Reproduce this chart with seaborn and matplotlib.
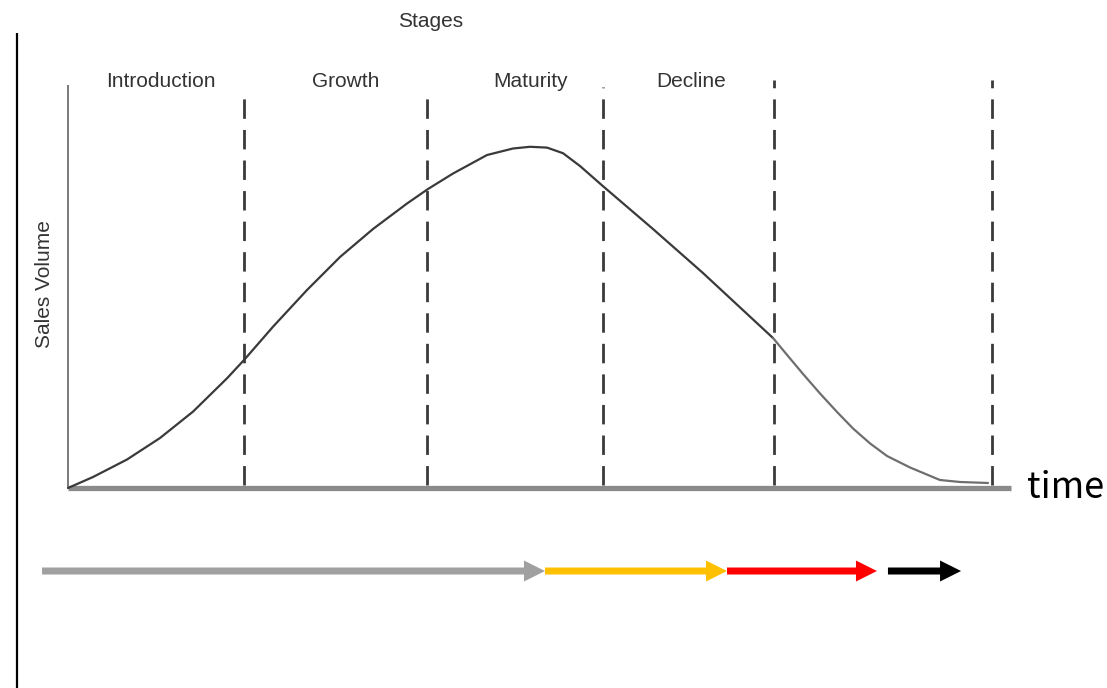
import matplotlib
matplotlib.use("Agg")
import matplotlib.pyplot as plt
import seaborn as sns
import pandas as pd

# ---------------- data ----------------
stage_names = ["Introduction", "Growth", "Maturity", "Decline"]
stage_bounds = [19.05, 38.85, 57.9, 76.4, 100.0]      # time at dashed separators
bound_tops = [114.6, 116.0, 117.0, 119.0, 119.0]      # top of each dashed separator
label_time = [10.1, 30.1, 50.1, 67.4]                  # stage label centres

curve_time = [0.0, 2.71, 6.39, 9.96, 13.53, 17.21, 19.16, 22.19, 25.87, 29.44,
              33.01, 36.69, 38.96, 41.67, 45.35, 48.16, 50.0, 51.84, 53.57,
              55.41, 57.90, 63.31, 68.72, 76.30,
              77.92, 79.55, 81.39, 83.23, 84.96, 86.80, 88.64, 91.13,
              94.37, 96.54, 99.57]
curve_sales = [0.0, 3.21, 8.31, 14.58, 22.27, 31.98, 37.64, 47.03, 57.73, 67.35,
               75.51, 82.94, 87.17, 91.69, 97.08, 98.98, 99.48, 99.24, 97.61,
               93.88, 87.99, 75.51, 62.68, 43.73,
               38.48, 33.24, 27.55, 22.16, 17.35, 13.00, 9.33, 5.98,
               2.33, 1.75, 1.46]

arrow_start = [-2.81, 51.62, 71.32, 88.74]
arrow_end = [51.62, 71.32, 87.55, 96.65]
arrow_colors = ["#a0a0a0", "#ffc000", "#ff0000", "#000000"]

# ---------------- figure ----------------
sns.set_theme(style="white")
plt.rcParams["font.family"] = ["Liberation Sans", "DejaVu Sans"]

fig = plt.figure(figsize=(11.07, 6.88), dpi=100)
ax = fig.add_axes([0, 0, 1, 1])
px_x = 9.24   # pixels per time unit
px_y = 3.43   # pixels per sales unit

# slide border line on the left
ax.vlines(-51 / px_x, -70, 132.7, color="black", lw=1.6)

# axes of the diagram
ax.vlines(0, 0, 117.5, color="#7a7a7a", lw=1.4)
ax.hlines(0, 0, 102.05, color="#8a8a8a", lw=3.8)

# dashed separators
for b, t in zip(stage_bounds, bound_tops):
    ax.vlines(b, 1.0, t, color="#3a3a3a", lw=2.0, linestyles=(0, (7, 4)))

# curve
df = pd.DataFrame({"time": curve_time, "sales": curve_sales})
split = 23
sns.lineplot(data=df.iloc[:split + 1], x="time", y="sales", sort=False,
             color="#3a3a3a", lw=1.6, ax=ax, estimator=None)
sns.lineplot(data=df.iloc[split:], x="time", y="sales", sort=False,
             color="#6e6e6e", lw=1.6, ax=ax, estimator=None)

# texts
txt = dict(color="#333333", fontsize=15)
for name, x in zip(stage_names, label_time):
    ax.text(x, 118.4, name, ha="center", va="center", **txt)
ax.text(39.2, 135.9, "Stages", ha="center", va="center", **txt)
ax.text(-2.49, 59.5, "Sales Volume", rotation=90, ha="center", va="center", **txt)
ax.text(103.8, 0.0, "time", ha="left", va="center", fontsize=26, color="black",
        family=["Noto Sans CJK JP", "DejaVu Sans"])

# timeline arrows
for s, e, c in zip(arrow_start, arrow_end, arrow_colors):
    ax.arrow(s, -24.2, e - s, 0, width=7 / px_y, head_width=21 / px_y,
             head_length=21 / px_x, length_includes_head=True,
             color=c, lw=0)

ax.set_xlim(-68 / px_x, (1107 - 68) / px_x)
ax.set_ylim(-(688 - 488) / px_y, 488 / px_y)
ax.set_axis_off()

fig.savefig("out.png", dpi=100)
